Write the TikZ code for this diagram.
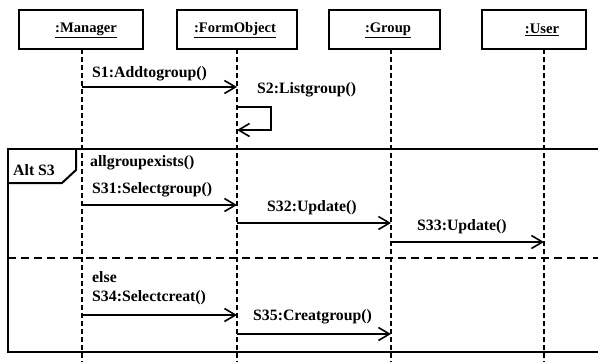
\documentclass[tikz,border=0pt]{standalone}
\usepackage{fontspec}
\newfontfamily\lblfont{Liberation Serif}
\usetikzlibrary{arrows.meta}
\begin{document}
\begin{tikzpicture}[x=1pt,y=-1pt,
  every node/.style={font=\lblfont\bfseries\fontsize{15.8}{18}\selectfont},
  headbox/.style={draw, line width=1.6pt, minimum height=39pt, inner sep=0pt},
  headtxt/.style={inner sep=0pt, font=\lblfont\bfseries\fontsize{14.6}{18}\selectfont},
  lifeline/.style={line width=1.5pt, dash pattern=on 5pt off 3pt},
  msg/.style={line width=1.6pt, -{Straight Barb[length=11pt,width=13pt,line width=1.6pt]}},
  lbl/.style={anchor=west, inner sep=0pt},
  framestyle/.style={line width=2pt},
  divider/.style={line width=2pt, dash pattern=on 8pt off 5pt}]
\useasboundingbox (0,0) rectangle (598,362);
\fill[white] (0,0) rectangle (598,362);
% head boxes
\node[headbox, minimum width=124pt] (bM) at (81,29.5) {};
\node[headbox, minimum width=120pt] (bF) at (237,29.5) {};
\node[headbox, minimum width=111pt] (bG) at (384.5,29.5) {};
\node[headbox, minimum width=104pt] (bU) at (534,29.5) {};
\node[headtxt] (tM) at (86,30) {\underline{:Manager}};
\node[headtxt] (tF) at (235,30) {\underline{:FormObject}};
\node[headtxt] (tG) at (388,30) {\underline{:Group}};
\node[headtxt] (tU) at (542,30) {\underline{:User}};
% lifelines
\coordinate (lMt) at (82,49);  \coordinate (lMb) at (82,362);
\coordinate (lFt) at (237,49); \coordinate (lFb) at (237,362);
\coordinate (lGt) at (391,49); \coordinate (lGb) at (391,362);
\coordinate (lUt) at (544,49); \coordinate (lUb) at (544,362);
\draw[lifeline] (lMt) -- (lMb);
\draw[lifeline] (lFt) -- (lFb);
\draw[lifeline] (lGt) -- (lGb);
\draw[lifeline] (lUt) -- (lUb);
% frame
\coordinate (frTR) at (600,149);
\coordinate (frTL) at (8,149);
\coordinate (frBL) at (8,352);
\coordinate (frBR) at (600,352);
\draw[framestyle] (frTR) -- (frTL) -- (frBL) -- (frBR);
\coordinate (tabA) at (8,183);
\coordinate (tabB) at (62,183);
\coordinate (tabC) at (76,170);
\coordinate (tabD) at (76,149);
\draw[framestyle] (tabA) -- (tabB) -- (tabC) -- (tabD);
\node[lbl] (alt) at (13,170) {Alt S3};
\coordinate (dvL) at (8,258);
\coordinate (dvR) at (600,258);
\draw[divider] (dvL) -- (dvR);
% messages
\coordinate (m1a) at (82,87);  \coordinate (m1b) at (237,87);
\draw[msg] (m1a) -- (m1b);
\node[lbl] (s1) at (92,74) {S1:Addtogroup()};
\coordinate (m2a) at (237,107); \coordinate (m2b) at (271,107);
\coordinate (m2c) at (271,130); \coordinate (m2d) at (237,130);
\draw[msg] (m2a) -- (m2b) -- (m2c) -- (m2d);
\node[lbl] (s2) at (257,90) {S2:Listgroup()};
\node[lbl] (cond1) at (90,163) {allgroupexists()};
\coordinate (m31a) at (82,205); \coordinate (m31b) at (237,205);
\draw[msg] (m31a) -- (m31b);
\node[lbl] (s31) at (92,190) {S31:Selectgroup()};
\coordinate (m32a) at (237,223); \coordinate (m32b) at (391,223);
\draw[msg] (m32a) -- (m32b);
\node[lbl] (s32) at (267,208) {S32:Update()};
\coordinate (m33a) at (391,242); \coordinate (m33b) at (544,242);
\draw[msg] (m33a) -- (m33b);
\node[lbl] (s33) at (417,227) {S33:Update()};
\node[lbl] (cond2) at (92,277) {else};
\coordinate (m34a) at (82,315); \coordinate (m34b) at (237,315);
\draw[msg] (m34a) -- (m34b);
\node[lbl] (s34) at (92,298) {S34:Selectcreat()};
\coordinate (m35a) at (237,334); \coordinate (m35b) at (391,334);
\draw[msg] (m35a) -- (m35b);
\node[lbl] (s35) at (253,317) {S35:Creatgroup()};
\end{tikzpicture}
\end{document}
